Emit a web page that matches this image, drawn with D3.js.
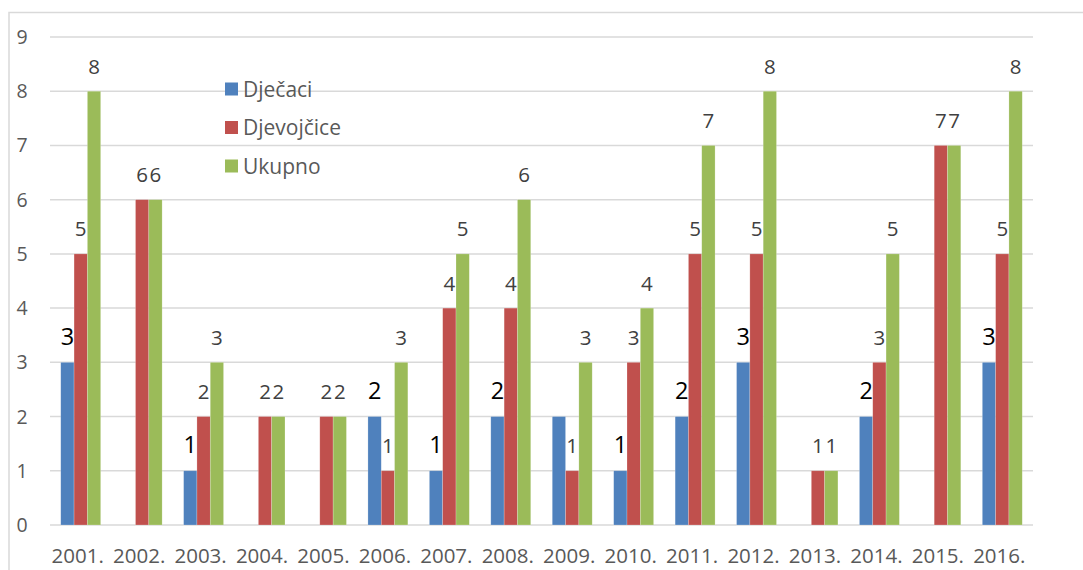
<!DOCTYPE html>
<html><head><meta charset="utf-8">
<script src="https://cdn.jsdelivr.net/npm/d3@7"></script>
<style>body{margin:0;background:#fff}svg{display:block}</style>
</head><body>
<svg id="c" width="1083" height="570"></svg>
<script>
const years = ["2001.","2002.","2003.","2004.","2005.","2006.","2007.","2008.","2009.","2010.","2011.","2012.","2013.","2014.","2015.","2016."];
const boys  = [3,0,1,0,0,2,1,2,2,1,2,3,0,2,0,3];
const girls = [5,6,2,2,2,1,4,4,1,3,5,5,1,3,7,5];
const total = [8,6,3,2,2,3,5,6,3,4,7,8,1,5,7,8];
const boysLabels = ["3","","1","","","2","1","2","","1","2","3","","2","","3"];
const seriesNames = ["Dječaci","Djevojčice","Ukupno"];
const colors = ["#4F81BD","#C0504D","#9BBB59"];
const yTicks = [0,1,2,3,4,5,6,7,8,9];

(function(){
const svg = d3.select("#c");
const font = "'Open Sans', 'Noto Sans', sans-serif";
const pLeft = 50, pRight = 1033, pTop = 37, pBottom = 525;

// outer frame
svg.append("path").attr("d","M9,575 L9,12.5 L1090,12.5").attr("fill","none")
  .attr("stroke","#D9D9D9").attr("stroke-width",1.5);

const x = d3.scaleBand().domain(years).range([pLeft,pRight]).paddingInner(0.35).paddingOuter(0.175);
const xs = d3.scaleBand().domain([0,1,2]).range([0,x.bandwidth()]);
const y = d3.scaleLinear().domain([0,9]).range([pBottom,pTop]);

// gridlines
svg.append("g").selectAll("line").data(yTicks).join("line")
  .attr("x1",pLeft).attr("x2",pRight).attr("y1",d=>y(d)).attr("y2",d=>y(d))
  .attr("stroke","#D9D9D9").attr("stroke-width",1.5);

// y labels
svg.append("g").selectAll("text").data(yTicks).join("text")
  .attr("x",22).attr("y",d=>y(d)).attr("dy","0.36em").attr("text-anchor","middle")
  .attr("font-family",font).attr("font-size",19.5).attr("fill","#595959").text(d=>d);

// x labels
svg.append("g").selectAll("text").data(years).join("text")
  .attr("x",d=>x(d)+x.bandwidth()/2 - 3).attr("y",563).attr("text-anchor","middle")
  .attr("font-family",font).attr("font-size",20.5).attr("fill","#595959").text(d=>d);

const series = [boys,girls,total];
const gBars = svg.append("g");
series.forEach((vals,si)=>{
  gBars.append("g").selectAll("rect").data(vals).join("rect")
    .attr("x",(d,i)=>x(years[i])+xs(si)).attr("width",xs.bandwidth())
    .attr("y",d=>y(d)).attr("height",d=>y(0)-y(d))
    .attr("fill",colors[si]).attr("stroke","#ffffff").attr("stroke-opacity",0.35).attr("stroke-width",0.6);
});

// labels
const gL = svg.append("g");
gL.selectAll("text.b").data(boys).join("text").attr("class","b")
  .attr("x",(d,i)=>x(years[i])+xs(0)+xs.bandwidth()/2).attr("y",d=>y(d)-17.5)
  .attr("text-anchor","middle").attr("font-family",font).attr("font-size",23.5)
  .attr("fill","#000").text((d,i)=>boysLabels[i]);
[girls,total].forEach((vals,k)=>{
  const si = k+1;
  gL.append("g").selectAll("text").data(vals).join("text")
    .attr("x",(d,i)=>x(years[i])+xs(si)+xs.bandwidth()/2).attr("y",d=>y(d)-17.5)
    .attr("text-anchor","middle").attr("font-family",font).attr("font-size",20.5)
    .attr("fill","#404040").text(d=>d);
});

// legend
const lg = svg.append("g").attr("transform","translate(225,89)");
seriesNames.forEach((n,i)=>{
  const g = lg.append("g").attr("transform",`translate(0,${i*38.5})`);
  g.append("rect").attr("x",0).attr("y",-6.5).attr("width",13).attr("height",13).attr("fill",colors[i]);
  g.append("text").attr("x",18).attr("y",0).attr("dy","0.36em").attr("font-family",font)
    .attr("font-size",21).attr("fill","#595959").text(n);
});
})();
</script>
</body></html>
